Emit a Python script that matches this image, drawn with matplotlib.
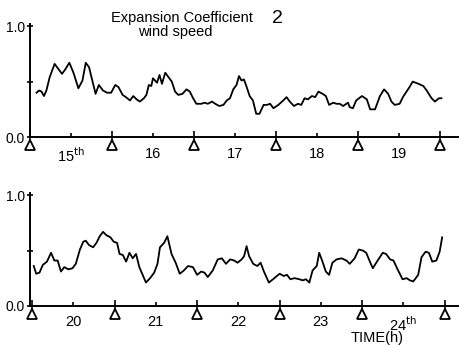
import matplotlib
matplotlib.use("Agg")
import matplotlib.pyplot as plt
from matplotlib.transforms import offset_copy

plt.rcParams['font.family'] = ['Liberation Sans', 'DejaVu Sans']

# days since start of panel (0 = start of first day), coefficient value
t_top = [0.08, 0.11, 0.14, 0.17, 0.20, 0.24, 0.30, 0.39, 0.43, 0.48,
         0.53, 0.59, 0.64, 0.68, 0.72, 0.76, 0.80, 0.84, 0.89, 0.94,
         0.99, 1.04, 1.08, 1.13, 1.17, 1.22, 1.26, 1.30, 1.34, 1.39,
         1.42, 1.45, 1.48, 1.50, 1.55, 1.58, 1.61, 1.65, 1.70, 1.73,
         1.77, 1.81, 1.86, 1.91, 1.95, 1.99, 2.03, 2.09, 2.13, 2.17,
         2.22, 2.26, 2.31, 2.36, 2.40, 2.44, 2.48, 2.52, 2.55, 2.58,
         2.61, 2.64, 2.68, 2.72, 2.76, 2.80, 2.85, 2.89, 2.93, 2.97,
         3.03, 3.09, 3.13, 3.17, 3.22, 3.27, 3.31, 3.35, 3.39, 3.44,
         3.48, 3.52, 3.57, 3.61, 3.65, 3.70, 3.74, 3.78, 3.82, 3.88,
         3.90, 3.94, 3.98, 4.05, 4.11, 4.15, 4.21, 4.27, 4.32, 4.37,
         4.41, 4.45, 4.51, 4.55, 4.63, 4.67, 4.74, 4.80, 4.84, 4.90,
         4.94, 4.99, 5.02]
v_top = [0.40, 0.42, 0.41, 0.37, 0.42, 0.54, 0.66, 0.57, 0.61, 0.67,
         0.58, 0.44, 0.51, 0.67, 0.63, 0.51, 0.39, 0.47, 0.42, 0.40,
         0.40, 0.47, 0.45, 0.38, 0.36, 0.33, 0.37, 0.34, 0.32, 0.35,
         0.38, 0.47, 0.46, 0.53, 0.49, 0.56, 0.48, 0.58, 0.53, 0.50,
         0.41, 0.38, 0.39, 0.43, 0.41, 0.35, 0.30, 0.30, 0.31, 0.30,
         0.32, 0.30, 0.28, 0.29, 0.33, 0.35, 0.43, 0.47, 0.55, 0.51,
         0.52, 0.46, 0.37, 0.33, 0.21, 0.21, 0.29, 0.29, 0.30, 0.26,
         0.29, 0.33, 0.36, 0.32, 0.28, 0.30, 0.29, 0.35, 0.34, 0.37,
         0.36, 0.41, 0.39, 0.37, 0.29, 0.31, 0.30, 0.30, 0.28, 0.31,
         0.27, 0.26, 0.33, 0.37, 0.34, 0.25, 0.25, 0.37, 0.43, 0.39,
         0.32, 0.29, 0.30, 0.36, 0.45, 0.50, 0.48, 0.46, 0.42, 0.35,
         0.32, 0.35, 0.35]

t_bot = [0.02, 0.05, 0.09, 0.13, 0.18, 0.23, 0.27, 0.31, 0.35, 0.39,
         0.44, 0.49, 0.53, 0.58, 0.62, 0.65, 0.69, 0.74, 0.78, 0.82,
         0.86, 0.90, 0.95, 0.99, 1.03, 1.06, 1.10, 1.14, 1.18, 1.22,
         1.26, 1.30, 1.34, 1.38, 1.43, 1.48, 1.52, 1.55, 1.60, 1.64,
         1.69, 1.74, 1.79, 1.84, 1.89, 1.95, 2.00, 2.05, 2.09, 2.13,
         2.19, 2.25, 2.30, 2.35, 2.40, 2.45, 2.49, 2.54, 2.57, 2.60,
         2.63, 2.68, 2.73, 2.77, 2.81, 2.87, 2.92, 3.00, 3.05, 3.09,
         3.13, 3.18, 3.24, 3.28, 3.32, 3.36, 3.40, 3.45, 3.48, 3.52,
         3.56, 3.60, 3.64, 3.69, 3.75, 3.81, 3.85, 3.91, 3.96, 4.01,
         4.05, 4.10, 4.13, 4.18, 4.25, 4.29, 4.34, 4.38, 4.43, 4.49,
         4.54, 4.58, 4.62, 4.68, 4.72, 4.77, 4.81, 4.85, 4.90, 4.94,
         4.97]
v_bot = [0.36, 0.29, 0.30, 0.37, 0.40, 0.48, 0.41, 0.41, 0.31, 0.35,
         0.33, 0.34, 0.38, 0.51, 0.58, 0.59, 0.55, 0.53, 0.57, 0.63,
         0.67, 0.64, 0.62, 0.58, 0.57, 0.47, 0.46, 0.40, 0.48, 0.43,
         0.47, 0.35, 0.28, 0.21, 0.25, 0.30, 0.38, 0.53, 0.57, 0.63,
         0.47, 0.39, 0.29, 0.32, 0.36, 0.35, 0.28, 0.31, 0.30, 0.26,
         0.32, 0.42, 0.43, 0.38, 0.42, 0.41, 0.39, 0.42, 0.45, 0.54,
         0.45, 0.38, 0.36, 0.39, 0.31, 0.21, 0.24, 0.29, 0.27, 0.28,
         0.24, 0.25, 0.24, 0.23, 0.24, 0.21, 0.32, 0.36, 0.48, 0.40,
         0.31, 0.28, 0.39, 0.42, 0.43, 0.41, 0.38, 0.43, 0.51, 0.50,
         0.48, 0.39, 0.34, 0.40, 0.48, 0.47, 0.42, 0.41, 0.33, 0.24,
         0.25, 0.23, 0.22, 0.28, 0.44, 0.49, 0.48, 0.40, 0.41, 0.49,
         0.62]

day_labels_top = ['15$^{\\rm th}$', '16', '17', '18', '19']
day_labels_bot = ['20', '21', '22', '23', '24$^{\\rm th}$']
day_marks = [0, 1, 2, 3, 4, 5]


def setup(ax, labels, xmax, xmin=0.0):
    ax.set_xlim(xmin, xmax)
    ax.set_ylim(0, 1.02)
    for s in ['top', 'right']:
        ax.spines[s].set_visible(False)
    for s in ['left', 'bottom']:
        ax.spines[s].set_linewidth(1.4)
    ax.set_xticks(day_marks)
    ax.set_xticklabels([])
    ax.tick_params(axis='x', which='major', direction='inout', length=8, width=1.2)
    ax.set_xticks([d + 0.5 for d in range(5)], minor=True)
    ax.set_xticklabels(labels, minor=True, fontsize=10.5)
    ax.tick_params(axis='x', which='minor', direction='in', length=3, width=1.2, pad=7)
    ax.set_yticks([0, 0.5, 1.0])
    ax.set_yticklabels(['0.0', '', '1.0'], fontsize=10)
    ax.tick_params(axis='y', direction='inout', length=5, width=1.2, pad=1)
    # hollow triangles marking day boundaries, just below the axis
    tr = offset_copy(ax.get_xaxis_transform(), fig=ax.figure, y=-6, units='points')
    ax.plot(day_marks, [0] * len(day_marks), linestyle='none', marker='^',
            markersize=6.5, markerfacecolor='white', markeredgecolor='black',
            markeredgewidth=1.3, transform=tr, clip_on=False)


fig = plt.figure(figsize=(4.59, 3.47), dpi=100)

ax1 = fig.add_axes([0.0654, 0.605, 0.932, 0.326])
ax1.plot(t_top, v_top, color='black', linewidth=1.3)
setup(ax1, day_labels_top, 5.22)

ax2 = fig.add_axes([0.0654, 0.119, 0.932, 0.324])
ax2.plot(t_bot, v_bot, color='black', linewidth=1.3)
setup(ax2, day_labels_bot, 5.16, xmin=-0.025)

fig.text(0.397, 0.948, 'Expansion Coefficient', ha='center', va='center', fontsize=10.5)
fig.text(0.605, 0.948, '2', ha='center', va='center', fontsize=14)
fig.text(0.381, 0.908, 'wind speed', ha='center', va='center', fontsize=10.5)
fig.text(0.821, 0.026, 'TIME(h)', ha='center', va='center', fontsize=10.5)

fig.savefig('out.png', dpi=100, facecolor='white')
